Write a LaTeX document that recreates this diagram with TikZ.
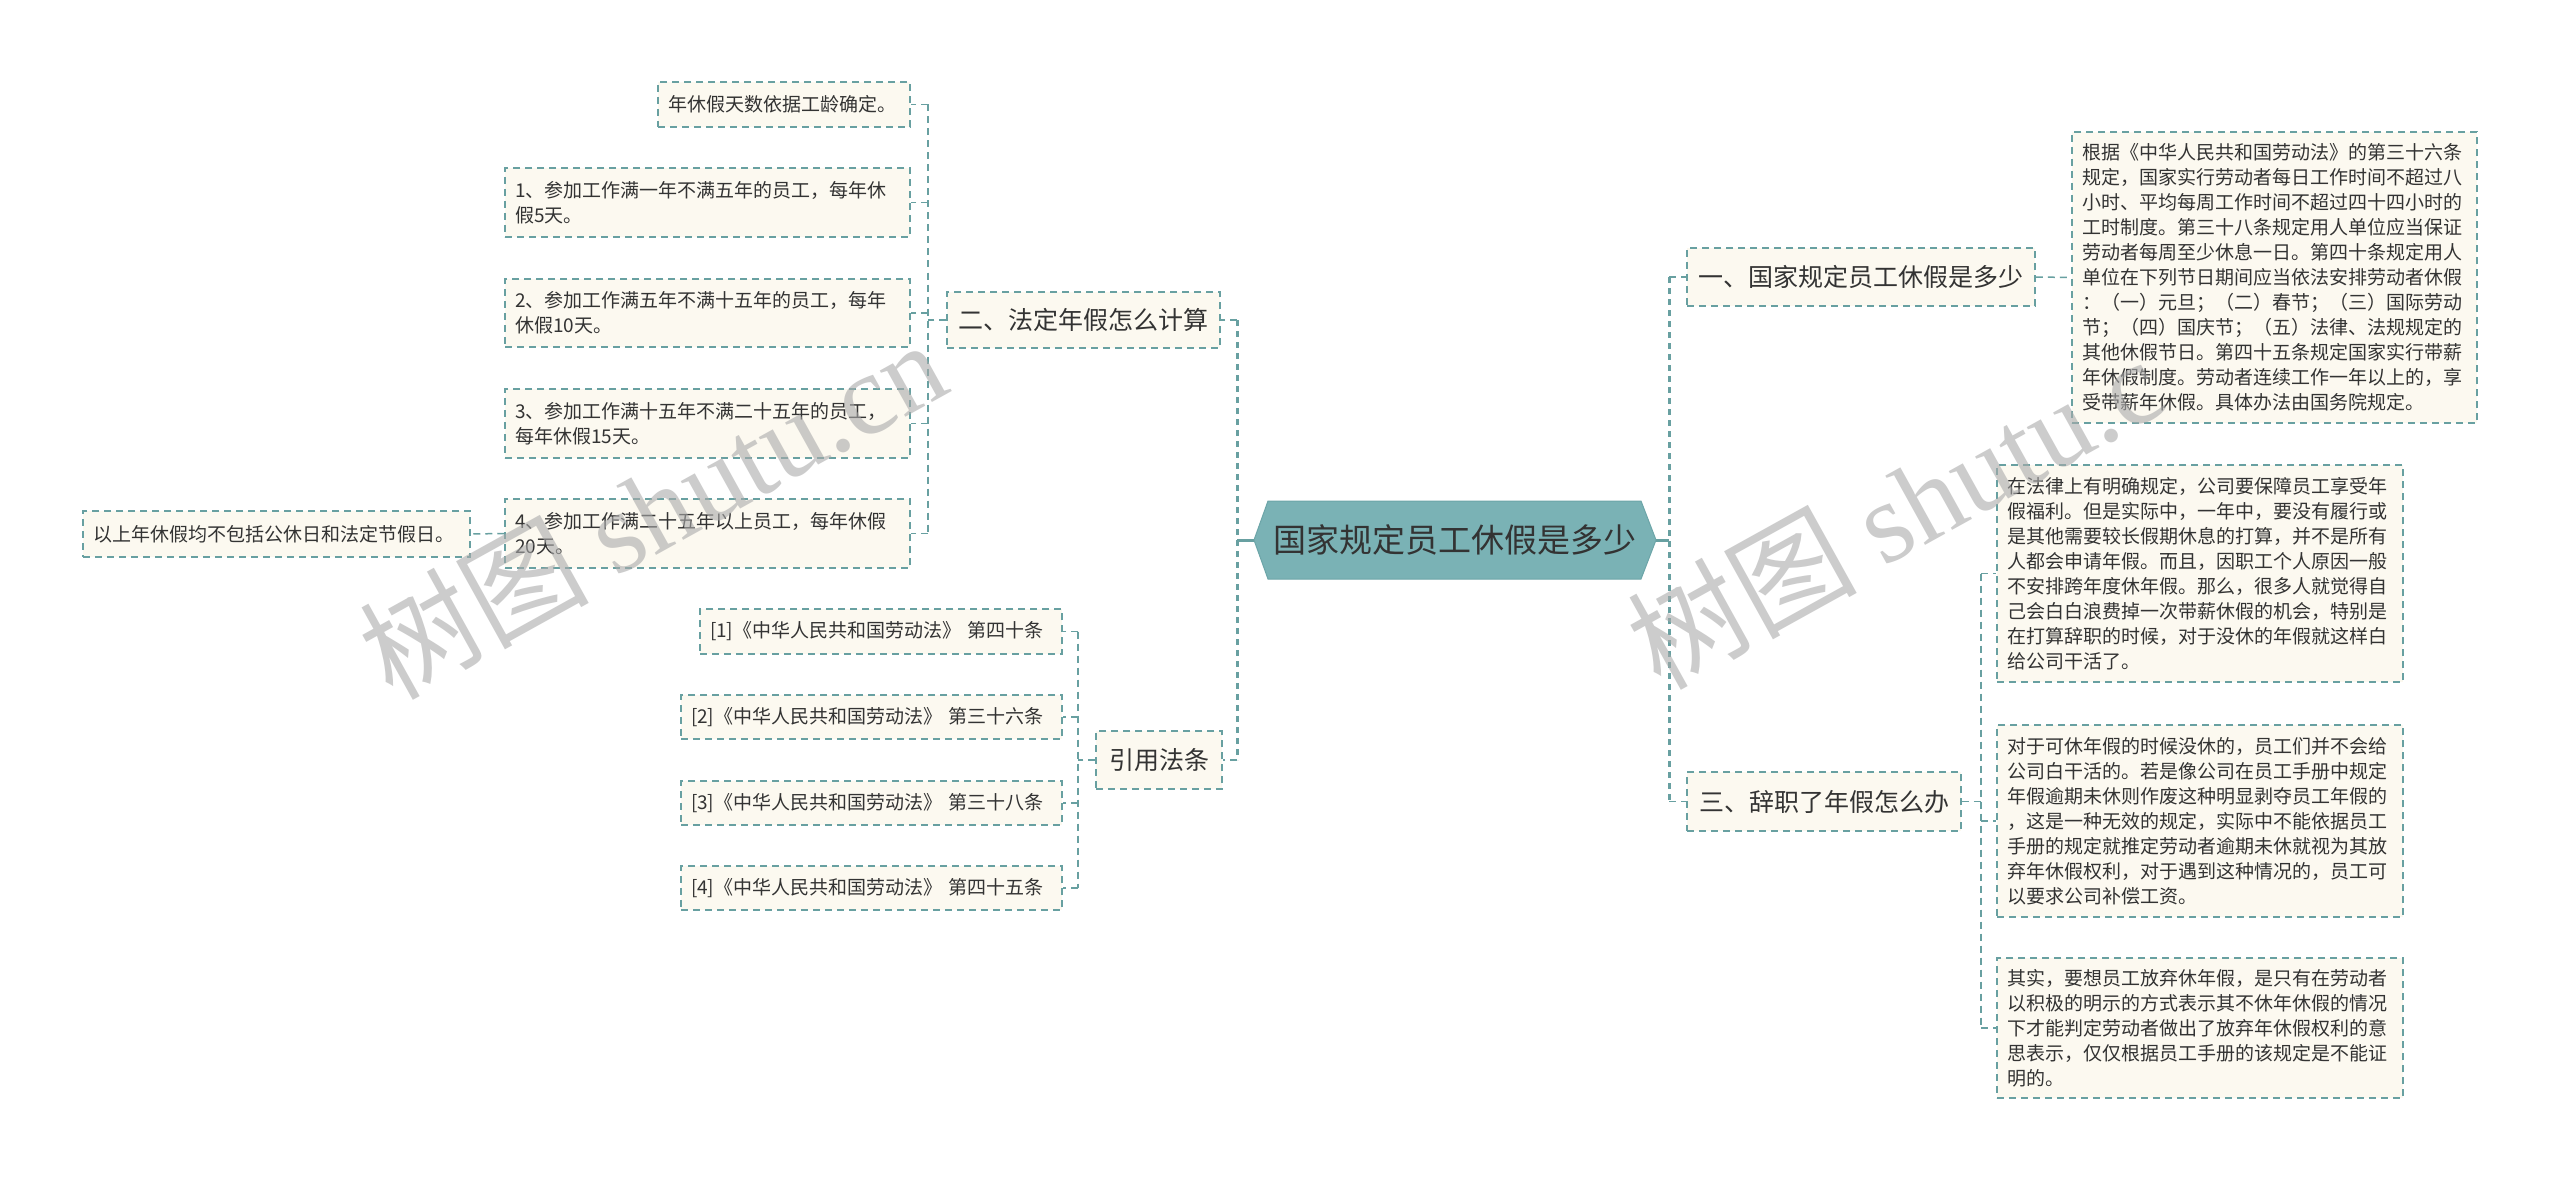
\documentclass[tikz,border=0pt]{standalone}
\usepackage{fontspec}
\setmainfont{Noto Sans CJK SC}
\newfontfamily\wmserif{Liberation Serif}
\usetikzlibrary{calc}
\definecolor{lineteal}{RGB}{104,160,161}
\definecolor{rootfill}{RGB}{122,178,181}
\definecolor{rootdraw}{RGB}{108,165,168}
\definecolor{cream}{RGB}{252,249,240}
\definecolor{txt}{RGB}{51,51,51}
\definecolor{wm}{RGB}{170,170,170}
\tikzset{
  box/.style={draw=lineteal, fill=cream, line width=1.5pt, dash pattern=on 7pt off 5pt, text=txt, inner xsep=10pt, inner ysep=0pt, align=left},
  leaf/.style={box, font=\fontsize{19}{25}\selectfont},
  branch/.style={box, font=\fontsize{25}{30}\selectfont, align=center, inner xsep=0pt},
  sub/.style={draw=lineteal, line width=1.5pt, dash pattern=on 7pt off 5pt},
  trunk/.style={draw=lineteal, line width=3pt, dash pattern=on 6pt off 5pt},
  solidl/.style={draw=lineteal, line width=3pt},
  wmark/.style={text=wm, opacity=0.6, font=\fontsize{115}{120}\selectfont, inner sep=0pt, rotate=29, anchor=base west}
}
\begin{document}
\begin{tikzpicture}[x=1pt,y=-1pt]
\useasboundingbox (0,0) rectangle (2560,1185);
\fill[white] (0,0) rectangle (2560,1185);

% root
\filldraw[fill=rootfill, draw=rootdraw, line width=1pt] (1254,540) -- (1268,501) -- (1641,501) -- (1656,540) -- (1641,579) -- (1268,579) -- cycle;
\node[font=\fontsize{33}{40}\selectfont, text=txt, minimum width=402pt, minimum height=78pt, inner sep=0pt] (root) at (1455,540) {国家规定员工休假是多少};

% right branches
\node[branch, minimum width=348pt, minimum height=58pt] (one) at (1861,277) {一、国家规定员工休假是多少};
\node[branch, minimum width=274pt, minimum height=59pt] (three) at (1824,801.5) {三、辞职了年假怎么办};

\node[leaf, text width=385pt, minimum height=291pt] (R1) at (2274.5,277.5) {根据《中华人民共和国劳动法》的第三十六条\\规定，国家实行劳动者每日工作时间不超过八\\小时、平均每周工作时间不超过四十四小时的\\工时制度。第三十八条规定用人单位应当保证\\劳动者每周至少休息一日。第四十条规定用人\\单位在下列节日期间应当依法安排劳动者休假\\：（一）元旦；（二）春节；（三）国际劳动\\节；（四）国庆节；（五）法律、法规规定的\\其他休假节日。第四十五条规定国家实行带薪\\年休假制度。劳动者连续工作一年以上的，享\\受带薪年休假。具体办法由国务院规定。};

\node[leaf, text width=386pt, minimum height=217pt] (R2) at (2200,573.5) {在法律上有明确规定，公司要保障员工享受年\\假福利。但是实际中，一年中，要没有履行或\\是其他需要较长假期休息的打算，并不是所有\\人都会申请年假。而且，因职工个人原因一般\\不安排跨年度休年假。那么，很多人就觉得自\\己会白白浪费掉一次带薪休假的机会，特别是\\在打算辞职的时候，对于没休的年假就这样白\\给公司干活了。};

\node[leaf, text width=386pt, minimum height=192pt] (R3) at (2200,821) {对于可休年假的时候没休的，员工们并不会给\\公司白干活的。若是像公司在员工手册中规定\\年假逾期未休则作废这种明显剥夺员工年假的\\，这是一种无效的规定，实际中不能依据员工\\手册的规定就推定劳动者逾期未休就视为其放\\弃年休假权利，对于遇到这种情况的，员工可\\以要求公司补偿工资。};

\node[leaf, text width=386pt, minimum height=140pt] (R4) at (2200,1028) {其实，要想员工放弃休年假，是只有在劳动者\\以积极的明示的方式表示其不休年休假的情况\\下才能判定劳动者做出了放弃年休假权利的意\\思表示，仅仅根据员工手册的该规定是不能证\\明的。};

% left branches
\node[branch, minimum width=273pt, minimum height=56pt] (two) at (1083.5,320) {二、法定年假怎么计算};
\node[branch, minimum width=126pt, minimum height=58pt] (cite) at (1159,760) {引用法条};

\node[leaf, text width=232pt, minimum height=45pt] (L0) at (784,104.5) {年休假天数依据工龄确定。};
\node[leaf, text width=385pt, minimum height=69pt] (L1) at (707.5,202.5) {1、参加工作满一年不满五年的员工，每年休\\假5天。};
\node[leaf, text width=385pt, minimum height=68pt] (L2) at (707.5,313) {2、参加工作满五年不满十五年的员工，每年\\休假10天。};
\node[leaf, text width=385pt, minimum height=69pt] (L3) at (707.5,423.5) {3、参加工作满十五年不满二十五年的员工，\\每年休假15天。};
\node[leaf, text width=385pt, minimum height=69pt] (L4) at (707.5,533.5) {4、参加工作满二十五年以上员工，每年休假\\20天。};
\node[leaf, text width=367pt, minimum height=46pt] (L5) at (276.5,534) {以上年休假均不包括公休日和法定节假日。};

\node[leaf, text width=342pt, minimum height=45pt] (C1) at (881,631.5) {[1]《中华人民共和国劳动法》 第四十条};
\node[leaf, text width=361pt, minimum height=44pt] (C2) at (871.5,717) {[2]《中华人民共和国劳动法》 第三十六条};
\node[leaf, text width=361pt, minimum height=44pt] (C3) at (871.5,803) {[3]《中华人民共和国劳动法》 第三十八条};
\node[leaf, text width=361pt, minimum height=44pt] (C4) at (871.5,888) {[4]《中华人民共和国劳动法》 第四十五条};

% junctions
\coordinate (rj) at (1669,540);
\coordinate (lj) at (1237,540);
\coordinate (tj) at (1981,801.5);
\coordinate (twj) at (928,320);
\coordinate (cj) at (1078,760);

% main connectors
\draw[solidl] (root.east) -- (rj);
\draw[solidl] (root.west) -- (lj);
\draw[trunk] (rj |- one.west) -- (rj |- three.west);
\draw[sub] (rj |- one.west) -- (one.west);
\draw[sub] (rj |- three.west) -- (three.west);
\draw[trunk] (lj |- two.east) -- (lj |- cite.east);
\draw[sub] (lj |- two.east) -- (two.east);
\draw[sub] (lj |- cite.east) -- (cite.east);

% sub connectors right
\draw[sub] (one.east) -- (R1.west);
\draw[sub] (three.east) -- (tj);
\draw[sub] (tj |- R2.west) -- (tj |- R4.west);
\draw[sub] (tj |- R2.west) -- (R2.west);
\draw[sub] (tj |- R3.west) -- (R3.west);
\draw[sub] (tj |- R4.west) -- (R4.west);

% sub connectors left
\draw[sub] (two.west) -- (twj);
\draw[sub] (twj |- L0.east) -- (twj |- L4.east);
\foreach \n in {L0,L1,L2,L3,L4} \draw[sub] (twj |- \n.east) -- (\n.east);
\draw[sub] (L4.west) -- (L5.east);
\draw[sub] (cite.west) -- (cj);
\draw[sub] (cj |- C1.east) -- (cj |- C4.east);
\foreach \n in {C1,C2,C3,C4} \draw[sub] (cj |- \n.east) -- (\n.east);

% watermarks
\node[wmark] (wm1) at (392,702) {树图 {\wmserif shutu.cn}};
\node[wmark] (wm2) at (1660,692) {树图 {\wmserif shutu.c}};
\end{tikzpicture}
\end{document}
